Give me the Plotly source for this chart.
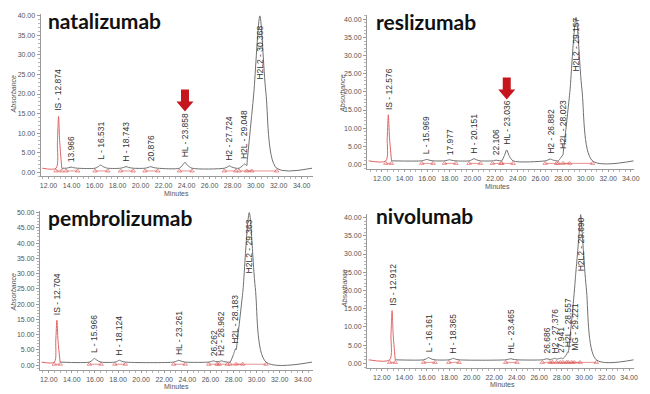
import numpy as np
import plotly.graph_objects as go

# ---------------- data ----------------
nat_labels = ["IS - 12.874", "13.966", "L - 16.531", "H - 18.743", "20.876",
              "HL - 23.858", "H2 - 27.724", "H2L - 29.048", "H2L2 - 30.368"]
nat_rt = [12.874, 13.966, 16.531, 18.743, 20.876, 23.858, 27.724, 29.048, 30.368]
nat_height = [13.3, 0.3, 0.8, 0.4, 0.4, 1.5, 0.6, 1.1, 39.0]
nat_width = [0.10, 0.20, 0.22, 0.22, 0.22, 0.22, 0.20, 0.22, 0.52]
nat_baseline = 1.0

res_labels = ["IS - 12.576", "L - 15.969", "17.977", "H - 20.151", "22.106",
              "HL - 23.036", "H2 - 26.882", "H2L - 28.023", "H2L2 - 29.157"]
res_rt = [12.576, 15.969, 17.977, 20.151, 22.106, 23.036, 26.882, 28.023, 29.157]
res_height = [12.7, 0.4, 0.3, 0.6, 0.2, 3.0, 0.5, 1.8, 39.5]
res_width = [0.10, 0.20, 0.20, 0.20, 0.15, 0.20, 0.20, 0.20, 0.52]
res_baseline = 1.0

pem_labels = ["IS - 12.704", "L - 15.966", "H - 18.124", "HL - 23.261", "26.262",
              "H2 - 26.962", "H2L - 28.183", "H2L2 - 29.363"]
pem_rt = [12.704, 15.966, 18.124, 23.261, 26.262, 26.962, 28.183, 29.363]
pem_height = [13.7, 1.2, 0.6, 0.6, 0.4, 0.4, 4.4, 49.0]
pem_width = [0.10, 0.20, 0.18, 0.20, 0.18, 0.18, 0.22, 0.52]
pem_baseline = 1.0

niv_labels = ["IS - 12.912", "L - 16.161", "H - 18.365", "HL - 23.465", "26.686",
              "H2 - 27.376", "27.941", "H2L - 28.557", "MG - 29.221", "H2L2 - 29.690"]
niv_rt = [12.912, 16.161, 18.365, 23.465, 26.686, 27.376, 27.941, 28.557, 29.221, 29.690]
niv_height = [13.5, 0.6, 0.4, 0.3, 0.3, 0.4, 0.5, 2.2, 1.2, 39.8]
niv_width = [0.10, 0.20, 0.18, 0.20, 0.18, 0.18, 0.18, 0.20, 0.15, 0.50]
niv_baseline = 1.0

drug_names = ["natalizumab", "reslizumab", "pembrolizumab", "nivolumab"]

# ---------------- layout configuration ----------------
W, H = 650, 394
panels = [
    dict(name=drug_names[0], labels=nat_labels, rt=nat_rt, h=nat_height, w=nat_width, base=nat_baseline,
         xpx=(40, 315), ypx=(12, 175), xr=(11.31, 34.95), yr=(-1.02, 40.5),
         big_label_top=38.0, title_xy=(45, 19), abs_xy=(13, 93), min_xy=(177, 192.5),
         arrow_tip=15.5),
    dict(name=drug_names[1], labels=res_labels, rt=res_rt, h=res_height, w=res_width, base=res_baseline,
         xpx=(370, 640), ypx=(13, 168.3), xr=(10.69, 34.29), yr=(-1.37, 41.18),
         big_label_top=41.0, title_xy=(377, 20), abs_xy=(345, 92), min_xy=(502, 185),
         arrow_tip=17.9),
    dict(name=drug_names[2], labels=pem_labels, rt=pem_rt, h=pem_height, w=pem_width, base=pem_baseline,
         xpx=(39.3, 315), ypx=(210, 370), xr=(11.23, 34.85), yr=(-1.63, 50.54),
         big_label_top=48.5, title_xy=(45, 217), abs_xy=(13, 292), min_xy=(177, 386.5),
         arrow_tip=None),
    dict(name=drug_names[3], labels=niv_labels, rt=niv_rt, h=niv_height, w=niv_width, base=niv_baseline,
         xpx=(370, 640), ypx=(213, 368.3), xr=(10.68, 34.45), yr=(-1.36, 40.99),
         big_label_top=40.5, title_xy=(377, 215), abs_xy=(347, 288), min_xy=(507, 384),
         arrow_tip=None),
]

CURVE = "#707070"
RED = "#e06464"
AXIS = "#9a9a9a"
TXT = "#555555"
ARROW = "#c4161c"
FONT = "Liberation Sans"


def peak_shape(rt, h, w):
    px = [rt - 2.2 * w, rt - w, rt, rt + w, rt + 2.8 * w]
    py = [0, 0.5 * h, h, 0.5 * h, 0]
    return px, py


def build_curve(rts, hs, ws, base, x0, x1):
    xs = [x0, x1]
    for rt, h, w in zip(rts, hs, ws):
        xs += peak_shape(rt, h, w)[0]
    xs = np.unique(np.clip(np.array(xs, dtype=float), x0, x1))
    ys = np.full_like(xs, base)
    for rt, h, w in zip(rts, hs, ws):
        px, py = peak_shape(rt, h, w)
        ys += np.interp(xs, px, py, left=0, right=0)
    return xs, ys


fig = go.Figure()
annotations = []
shapes = []
layout_axes = {}

for i, p in enumerate(panels):
    n = i + 1
    xa = "x" if n == 1 else f"x{n}"
    ya = "y" if n == 1 else f"y{n}"
    xs, ys = build_curve(p["rt"], p["h"], p["w"], p["base"], p["xr"][0] + 0.15, p["xr"][1] - 0.05)

    # integration baseline marks (red)
    rx, ry = [], []
    for rt, w in zip(p["rt"], p["w"]):
        rx += [rt - 2.2 * w, rt + 2.8 * w, None]
        ry += [0.3, 0.3, None]
    fig.add_trace(go.Scatter(x=rx, y=ry, mode="lines+markers", xaxis=xa, yaxis=ya,
                             line=dict(color=RED, width=0.7),
                             marker=dict(symbol="triangle-up-open", size=4, color=RED, line=dict(width=0.7)),
                             hoverinfo="skip", showlegend=False))

    # split: IS peak in red, rest grey
    is_end = p["rt"][0] + 2.8 * p["w"][0]
    m_red = xs <= is_end + 1e-9
    m_grey = xs >= is_end - 1e-9
    fig.add_trace(go.Scatter(x=xs[m_grey], y=ys[m_grey], mode="lines", xaxis=xa, yaxis=ya,
                             line=dict(color=CURVE, width=1, shape="spline", smoothing=0.8),
                             hoverinfo="skip", showlegend=False))
    fig.add_trace(go.Scatter(x=xs[m_red], y=ys[m_red], mode="lines", xaxis=xa, yaxis=ya,
                             line=dict(color=RED, width=1, shape="spline", smoothing=0.8),
                             hoverinfo="skip", showlegend=False))

    # axes
    xd = [p["xpx"][0] / W, p["xpx"][1] / W]
    yd = [1 - p["ypx"][1] / H, 1 - p["ypx"][0] / H]
    xkey = "xaxis" if n == 1 else f"xaxis{n}"
    ykey = "yaxis" if n == 1 else f"yaxis{n}"
    layout_axes[xkey] = dict(domain=xd, range=list(p["xr"]), anchor=ya, showgrid=False, zeroline=False,
                             showline=True, linecolor=AXIS, linewidth=1, ticks="outside", ticklen=2,
                             tickcolor=AXIS, tick0=0, dtick=2, tickformat=".2f", ticklabelstandoff=0,
                             tickfont=dict(family=FONT, size=7, color=TXT),
                             minor=dict(dtick=0.5, ticks="outside", ticklen=2, tickcolor="#b5b5b5"))
    layout_axes[ykey] = dict(domain=yd, range=list(p["yr"]), anchor=xa, showgrid=False, zeroline=False,
                             showline=True, linecolor=AXIS, linewidth=1, ticks="outside", ticklen=3,
                             tickcolor=AXIS, tick0=0, dtick=5, tickformat=".2f",
                             tickfont=dict(family=FONT, size=7, color=TXT),
                             minor=dict(dtick=1, ticks="outside", ticklen=2, tickcolor="#b5b5b5"))

    # peak labels
    for lab, rt, h in zip(p["labels"], p["rt"], p["h"]):
        top = p["base"] + h
        if h > 30:
            annotations.append(dict(x=rt, y=p["big_label_top"], xref=xa, yref=ya, text=lab, textangle=-90,
                                    showarrow=False, xanchor="center", yanchor="top",
                                    font=dict(family=FONT, size=8.5, color="#333333")))
        else:
            annotations.append(dict(x=rt, y=top, xref=xa, yref=ya, text=lab, textangle=-90,
                                    showarrow=False, xanchor="center", yanchor="bottom", yshift=3,
                                    font=dict(family=FONT, size=8.5, color="#333333")))

    # panel title
    annotations.append(dict(x=p["title_xy"][0] / W, y=1 - p["title_xy"][1] / H, xref="paper", yref="paper",
                            text=f"<b>{p['name']}</b>", showarrow=False, xanchor="left", yanchor="middle",
                            font=dict(family="Lato", size=21, color="#111111")))
    # axis titles
    annotations.append(dict(x=p["abs_xy"][0] / W, y=1 - p["abs_xy"][1] / H, xref="paper", yref="paper",
                            text="<i>Absorbance</i>", textangle=-90, showarrow=False,
                            xanchor="center", yanchor="middle", font=dict(family=FONT, size=7, color=TXT)))
    annotations.append(dict(x=p["min_xy"][0] / W, y=1 - p["min_xy"][1] / H, xref="paper", yref="paper",
                            text="Minutes", showarrow=False, borderpad=0,
                            xanchor="center", yanchor="middle", font=dict(family=FONT, size=7, color=TXT)))

    # red arrow pointing at the HL peak
    if p["arrow_tip"] is not None:
        hl_rt = p["rt"][p["labels"].index(next(l for l in p["labels"] if l.startswith("HL")))]
        shapes.append(dict(type="path", xref=xa, yref=ya, xsizemode="pixel", ysizemode="pixel",
                           xanchor=hl_rt, yanchor=p["arrow_tip"],
                           path="M0,0 L-8.5,10 L-4,10 L-4,22 L4,22 L4,10 L8.5,10 Z",
                           fillcolor=ARROW, line=dict(width=0)))

fig.update_layout(width=W, height=H, margin=dict(l=0, r=0, t=0, b=0),
                  paper_bgcolor="white", plot_bgcolor="white",
                  annotations=annotations, shapes=shapes, showlegend=False, **layout_axes)

fig.write_html("out.html", config={"displayModeBar": False},
               post_script="document.body.style.margin='0';document.body.style.overflow='hidden';")
